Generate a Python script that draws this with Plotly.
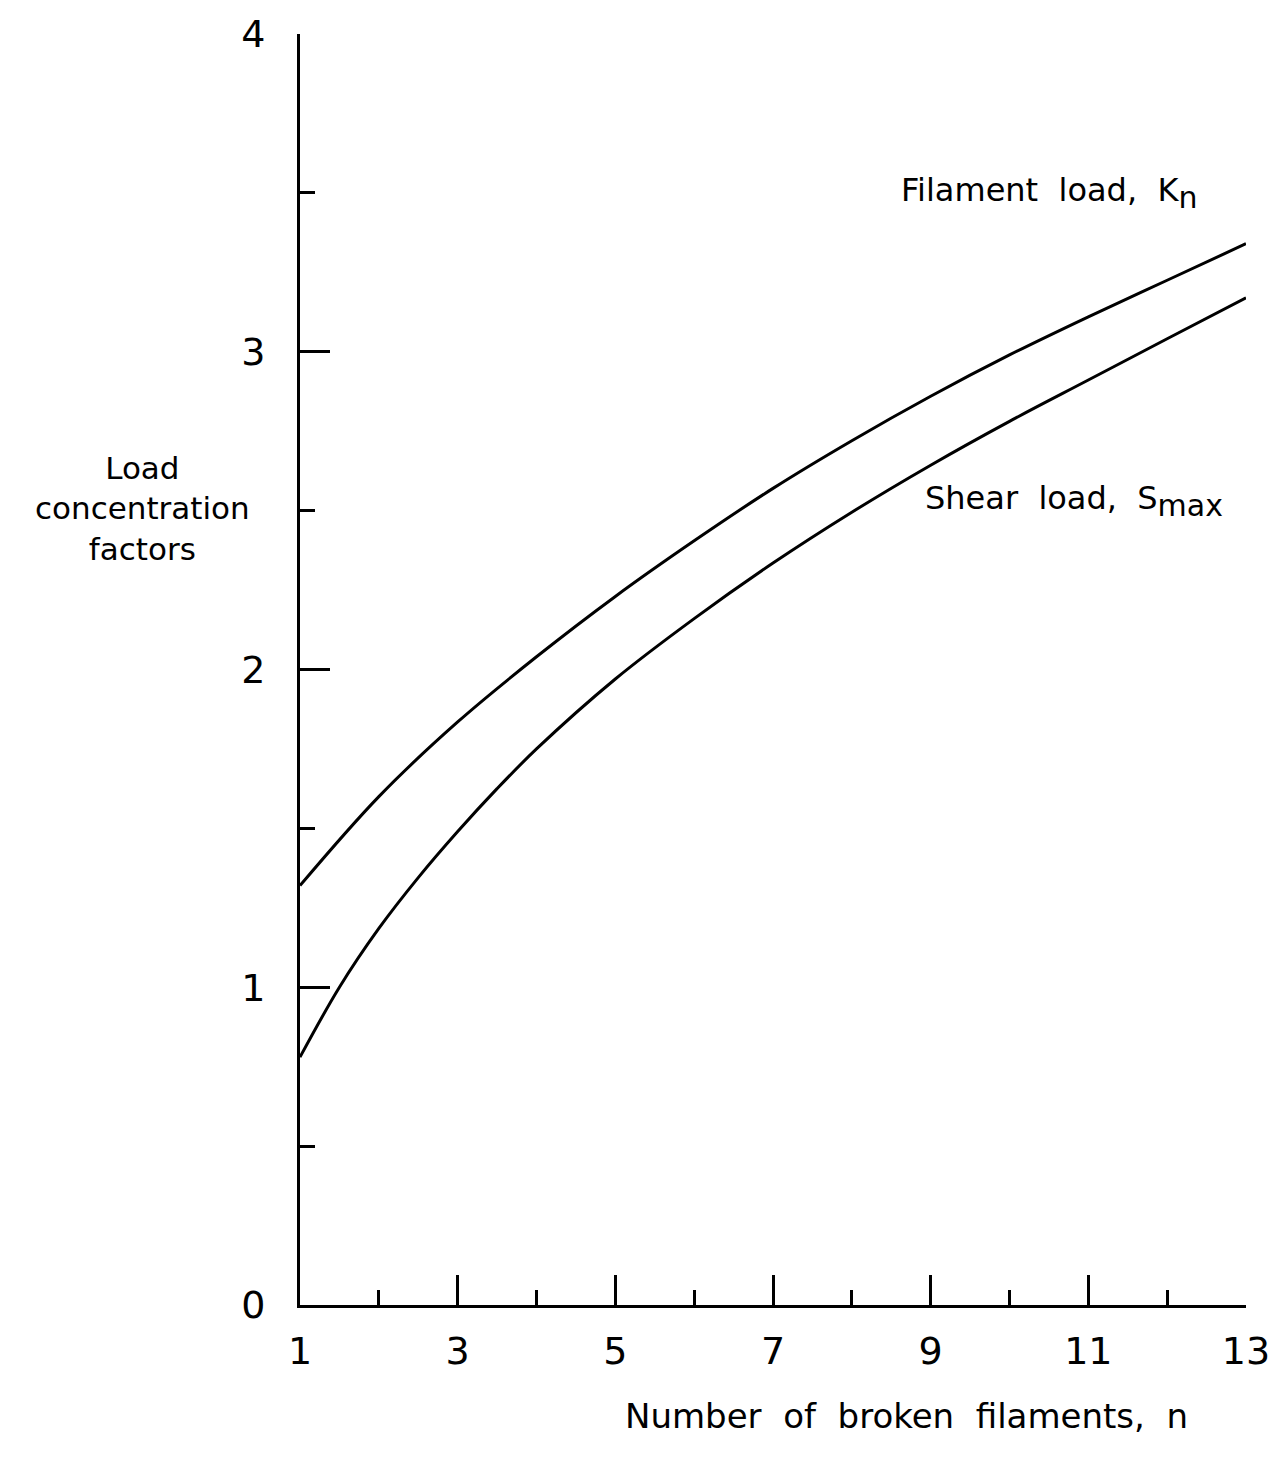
import plotly.graph_objects as go

# Filament load concentration factor, K_n, against number of broken filaments
n_filament = [1, 2, 3, 4, 5, 6, 7, 8, 9, 10, 11, 12, 13]
filament_load = [1.32, 1.60, 1.835, 2.04, 2.23, 2.405, 2.57, 2.72, 2.86, 2.99, 3.11, 3.225, 3.34]

# Maximum shear load concentration factor, S_max (finer steps where it bends sharply)
n_shear = [1, 1.5, 2, 2.5, 3, 3.5, 4, 5, 6, 7, 8, 9, 10, 11, 12, 13]
shear_load = [0.78, 1.0, 1.185, 1.345, 1.49, 1.625, 1.75, 1.97, 2.16, 2.335, 2.495, 2.643, 2.781, 2.911, 3.041, 3.17]

x_tick_vals = [1, 3, 5, 7, 9, 11, 13]
x_tick_text = ["1", "3", "5", "7", "9", "11", "13"]
y_tick_vals = [0, 1, 2, 3, 4]
y_tick_text = ["0", "1", "2", "3", "4"]

FONT = "DejaVu Sans"
INK = "black"

fig = go.Figure()

for xs, ys in ((n_filament, filament_load), (n_shear, shear_load)):
    fig.add_trace(go.Scatter(
        x=xs, y=ys, mode="lines",
        line=dict(color=INK, width=3, shape="spline", smoothing=1.0),
        showlegend=False, hoverinfo="skip",
    ))

fig.update_xaxes(
    range=[1, 13], showgrid=False, zeroline=False,
    showline=True, linecolor=INK, linewidth=3,
    tickmode="array", tickvals=x_tick_vals, ticktext=x_tick_text,
    ticks="inside", ticklen=30, tickwidth=3, tickcolor=INK,
    minor=dict(dtick=1, tick0=1, ticks="inside", ticklen=15, tickwidth=3, tickcolor=INK, showgrid=False),
    tickfont=dict(family=FONT, size=38, color=INK),
    ticklabelstandoff=10,
)
fig.update_yaxes(
    range=[0, 4], showgrid=False, zeroline=False,
    showline=True, linecolor=INK, linewidth=3,
    tickmode="array", tickvals=y_tick_vals, ticktext=y_tick_text,
    ticks="inside", ticklen=30, tickwidth=3, tickcolor=INK,
    minor=dict(dtick=0.5, tick0=0, ticks="inside", ticklen=15, tickwidth=3, tickcolor=INK, showgrid=False),
    tickfont=dict(family=FONT, size=38, color=INK),
    ticklabelstandoff=24,
)

# Curve labels
fig.add_annotation(x=10.5, y=3.50, xref="x", yref="y", showarrow=False,
                   xanchor="center", yanchor="middle",
                   text="Filament  load,  K<sub><span style='font-size:30px'>n</span></sub>",
                   font=dict(family=FONT, size=32, color=INK))
fig.add_annotation(x=10.82, y=2.53, xref="x", yref="y", showarrow=False,
                   xanchor="center", yanchor="middle",
                   text="Shear  load,  S<sub><span style='font-size:30px'>max</span></sub>",
                   font=dict(family=FONT, size=32, color=INK))

# Axis titles
fig.add_annotation(x=0.641, y=-0.087, xref="paper", yref="paper", showarrow=False,
                   xanchor="center", yanchor="middle",
                   text="Number  of  broken  filaments,  n",
                   font=dict(family=FONT, size=34, color=INK))
fig.add_annotation(x=-0.166, y=0.627, xref="paper", yref="paper", showarrow=False,
                   xanchor="center", yanchor="middle",
                   text="Load<br>concentration<br>factors", align="center",
                   font=dict(family=FONT, size=31, color=INK))

fig.update_layout(
    width=1282, height=1459,
    margin=dict(l=300, r=27, t=28, b=154),
    paper_bgcolor="white", plot_bgcolor="white",
)

fig.write_html("out.html")
